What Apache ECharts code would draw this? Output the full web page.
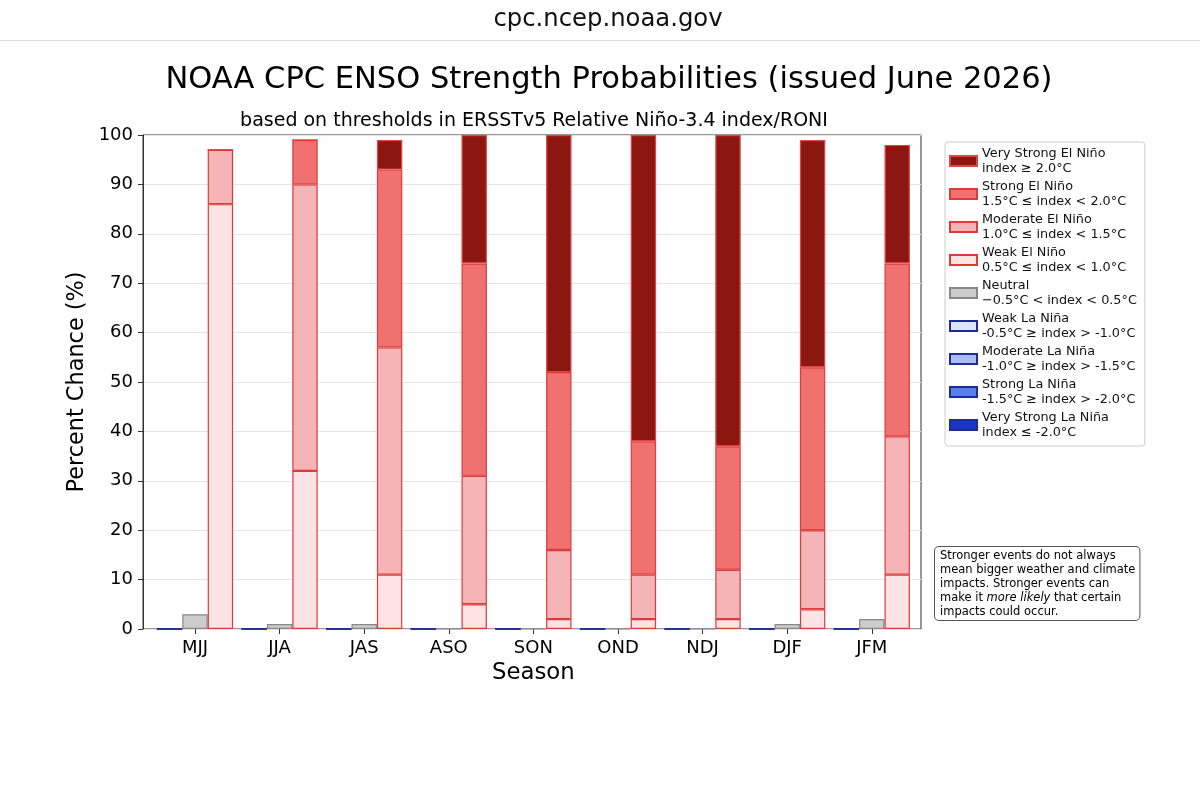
<!DOCTYPE html>
<html>
<head>
<meta charset="utf-8">
<script src="https://cdn.jsdelivr.net/npm/echarts@6/dist/echarts.min.js"></script>
<style>html,body{margin:0;padding:0;background:#fff}#c{width:1200px;height:808px}</style>
</head>
<body>
<div id="c"></div>
<script>
const seasons = ['MJJ','JJA','JAS','ASO','SON','OND','NDJ','DJF','JFM'];
const yTicks = [0,10,20,30,40,50,60,70,80,90,100];
const weakLaNina = [0,0,0,0,0,0,0,0,0];
const modLaNina = [0,0,0,0,0,0,0,0,0];
const strongLaNina = [0,0,0,0,0,0,0,0,0];
const vStrongLaNina = [0,0,0,0,0,0,0,0,0];
const neutral = [3,1,1,0,0,0,0,1,2];
const weakElNino = [86,32,11,5,2,2,2,4,11];
const modElNino = [11,58,46,26,14,9,10,16,28];
const strongElNino = [0,9,36,43,36,27,25,33,35];
const vStrongElNino = [0,0,6,26,48,62,63,46,24];

const FONT = '"DejaVu Sans", sans-serif';
const chart = echarts.init(document.getElementById('c'), null, {renderer:'canvas'});

function mk(name, arr, stack, fill, border){
  return {
    name, type:'bar', stack, barWidth:25.4, barGap:'0%',
    xAxisIndex:0, yAxisIndex:0,
    data: arr,
    itemStyle:{color:fill, borderColor:border, borderWidth:1.2},
    emphasis:{disabled:true}
  };
}
const elB = '#dd3b3b', laB = '#1f2a99';
const series = [
  mk('Weak La Niña', weakLaNina, 'la', '#dce6fb', laB),
  mk('Moderate La Niña', modLaNina, 'la', '#a9bdf4', laB),
  mk('Strong La Niña', strongLaNina, 'la', '#5a80ef', laB),
  mk('Very Strong La Niña', vStrongLaNina, 'la', '#1a34c8', laB),
  mk('Neutral', neutral, 'ne', '#cccccc', '#888888'),
  mk('Weak El Niño', weakElNino, 'el', '#fde3e3', elB),
  mk('Moderate El Niño', modElNino, 'el', '#f5b4b5', elB),
  mk('Strong El Niño', strongElNino, 'el', '#f07270', elB),
  mk('Very Strong El Niño', vStrongElNino, 'el', '#8c1711', '#e04444')
];
const ranges = {
  'Very Strong El Niño':'index ≥ 2.0°C',
  'Strong El Niño':'1.5°C ≤ index < 2.0°C',
  'Moderate El Niño':'1.0°C ≤ index < 1.5°C',
  'Weak El Niño':'0.5°C ≤ index < 1.0°C',
  'Neutral':'−0.5°C < index < 0.5°C',
  'Weak La Niña':'-0.5°C ≥ index > -1.0°C',
  'Moderate La Niña':'-1.0°C ≥ index > -1.5°C',
  'Strong La Niña':'-1.5°C ≥ index > -2.0°C',
  'Very Strong La Niña':'index ≤ -2.0°C'
};
const legendOrder = ['Very Strong El Niño','Strong El Niño','Moderate El Niño','Weak El Niño','Neutral','Weak La Niña','Moderate La Niña','Strong La Niña','Very Strong La Niña'];

const yMin = yTicks[0], yMax = yTicks[yTicks.length-1];
chart.setOption({
  animation:false,
  backgroundColor:'#fff',
  textStyle:{fontFamily:FONT},
  grid:[
    {left:152.7, right:285.9, top:135, bottom:179, show:false},
    {left:143, right:279, top:135, bottom:179, show:true, borderColor:'#333', borderWidth:1, backgroundColor:'transparent'}
  ],
  xAxis:[
    {
      type:'category', gridIndex:0, data:seasons, boundaryGap:true,
      axisLine:{show:false},
      axisTick:{show:true, alignWithLabel:true, length:5, lineStyle:{color:'#333'}},
      axisLabel:{fontSize:18, color:'#000', margin:10, fontFamily:FONT},
      name:'Season', nameLocation:'middle', nameGap:33,
      nameTextStyle:{fontSize:22.8, color:'#000', fontFamily:FONT}
    },
    {type:'value', gridIndex:1, min:0, max:1, show:false}
  ],
  yAxis:[
    {type:'value', gridIndex:0, min:yMin, max:yMax, show:false},
    {
      type:'value', gridIndex:1, min:yMin, max:yMax, interval:10,
      axisLine:{show:true, onZero:false, lineStyle:{color:'#333'}},
      axisTick:{show:true, length:5, lineStyle:{color:'#333'}},
      axisLabel:{fontSize:18, color:'#000', margin:10, fontFamily:FONT},
      splitLine:{show:true, lineStyle:{color:'#e6e6e6', width:1}},
      name:'Percent Chance (%)', nameLocation:'middle', nameGap:50,
      nameTextStyle:{fontSize:22.4, color:'#000', fontFamily:FONT}
    }
  ],
  legend:{
    orient:'vertical', left:945, top:142,
    data:legendOrder.map(n=>({name:n, icon:'rect'})),
    itemWidth:27, itemHeight:10, itemGap:3,
    padding:[4,8,6,4],
    borderColor:'#cccccc', borderWidth:1, borderRadius:3,
    backgroundColor:'#fff',
    selectedMode:false,
    formatter:(n)=>n+'\n'+ranges[n],
    textStyle:{fontSize:12.8, lineHeight:15, color:'#111', fontFamily:FONT}
  },
  graphic:[
    {type:'text', x:608, y:20, style:{text:'cpc.ncep.noaa.gov', fontSize:24.3, fontFamily:FONT, fill:'#111', align:'center', verticalAlign:'middle'}},
    {type:'line', shape:{x1:0,y1:40.5,x2:1200,y2:40.5}, style:{stroke:'#dddddd', lineWidth:1}},
    {type:'text', x:609, y:80, style:{text:'NOAA CPC ENSO Strength Probabilities (issued June 2026)', fontSize:30.5, fontFamily:FONT, fill:'#000', align:'center', verticalAlign:'middle'}},
    {type:'text', x:534, y:121, style:{text:'based on thresholds in ERSSTv5 Relative Niño-3.4 index/RONI', fontSize:19, fontFamily:FONT, fill:'#000', align:'center', verticalAlign:'middle'}},
    {type:'text', x:935, y:547, style:{
      text:'Stronger events do not always\nmean bigger weather and climate\nimpacts. Stronger events can\nmake it {i|more likely} that certain\nimpacts could occur.',
      fontSize:11.5, lineHeight:14, fontFamily:FONT, fill:'#000',
      padding:[2,4,1,5], borderColor:'#555', borderWidth:1, borderRadius:4, backgroundColor:'#fff',
      rich:{i:{fontStyle:'italic', fontSize:11.5, fontFamily:FONT, lineHeight:14}}
    }}
  ],
  series
});
</script>
</body>
</html>
